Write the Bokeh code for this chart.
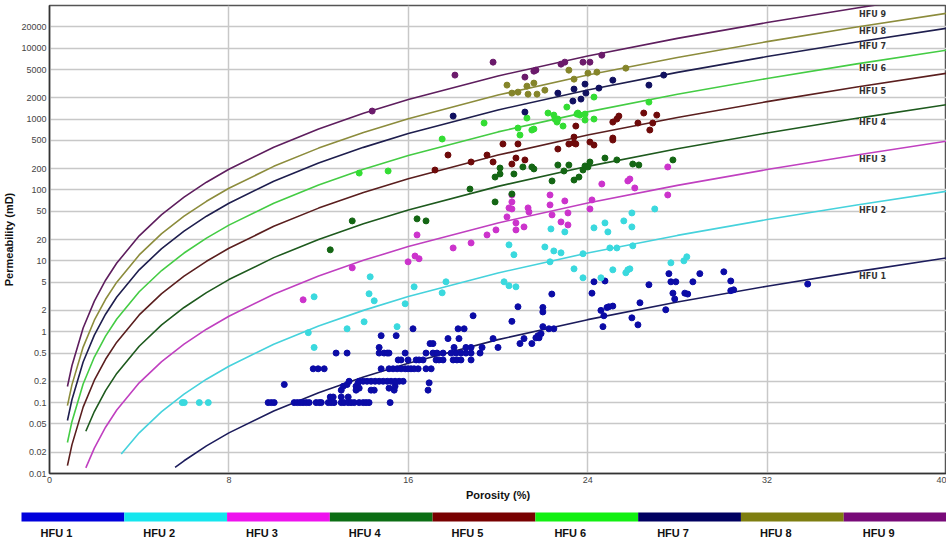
from bokeh.plotting import figure
from bokeh.models import FixedTicker, CustomJSTickFormatter, Label, Range1d, ColumnDataSource
from bokeh.layouts import column
from bokeh.embed import file_html
from bokeh.resources import INLINE
from bokeh.core.properties import value

# ---------------- data ----------------
units = ["HFU 1", "HFU 2", "HFU 3", "HFU 4", "HFU 5", "HFU 6", "HFU 7", "HFU 8", "HFU 9"]

x_ticks = [0, 8, 16, 24, 32, 40]
y_ticks = [0.01, 0.02, 0.05, 0.1, 0.2, 0.5, 1, 2, 5, 10, 20, 50, 100, 200, 500,
           1000, 2000, 5000, 10000, 20000]

# HFU reference curves (porosity %, permeability mD)
phi_a = [0.8, 1.0, 1.5, 2.0, 2.5, 3.0, 4.0, 5.0, 6.0, 7.0, 8.0, 10, 12, 14, 16, 20, 24, 28, 32, 36, 40]
phi_b = [1.62, 2.0, 2.5, 3.0, 4.0, 5.0, 6.0, 7.0, 8.0, 10, 12, 14, 16, 20, 24, 28, 32, 36, 40]
phi_c = [3.2, 4.0, 5.0, 6.0, 7.0, 8.0, 10, 12, 14, 16, 20, 24, 28, 32, 36, 40]
phi_d = [5.6, 6.0, 7.0, 8.0, 10, 12, 14, 16, 20, 24, 28, 32, 36, 40]

k_hfu9 = [0.169, 0.331, 1.129, 2.703, 5.333, 9.311, 22.53, 44.94, 79.32, 128.7, 196.3, 400.6, 724.0, 1204, 1884, 4056, 7766, 13740, 22994, 36960, 57686]
k_hfu8 = [0.0907, 0.178, 0.607, 1.453, 2.867, 5.005, 12.11, 24.16, 42.64, 69.17, 105.5, 215.3, 389.2, 647.1, 1012, 2180, 4174, 7386, 12359, 19866, 31006]
k_hfu7 = [0.0559, 0.1097, 0.374, 0.895, 1.767, 3.084, 7.464, 14.89, 26.28, 42.63, 65.02, 132.7, 239.8, 398.8, 623.9, 1344, 2573, 4552, 7617, 12243, 19109]
k_hfu6 = [0.0274, 0.0538, 0.1834, 0.4392, 0.8667, 1.513, 3.662, 7.303, 12.89, 20.91, 31.90, 65.10, 117.7, 195.6, 306.1, 659.1, 1262, 2233, 3737, 6006, 9374]
k_hfu5 = [0.01293, 0.02535, 0.0864, 0.2069, 0.4083, 0.7129, 1.725, 3.441, 6.073, 9.852, 15.03, 30.67, 55.43, 92.17, 144.2, 310.5, 594.6, 1052, 1760, 2830, 4417]
k_hfu4 = [0.0395, 0.0749, 0.1478, 0.2581, 0.6246, 1.246, 2.199, 3.567, 5.441, 11.10, 20.07, 33.37, 52.21, 112.4, 215.3, 380.9, 637.4, 1024, 1599]
k_hfu3 = [0.01203, 0.02281, 0.0450, 0.0786, 0.1901, 0.3792, 0.6693, 1.086, 1.656, 3.380, 6.109, 10.16, 15.89, 34.22, 65.53, 115.9, 194.0, 311.9, 486.7]
k_hfu2 = [0.01886, 0.03746, 0.0747, 0.1319, 0.2139, 0.3263, 0.666, 1.204, 2.001, 3.131, 6.743, 12.91, 22.84, 38.23, 61.45, 95.90]
k_hfu1 = [0.01219, 0.01512, 0.02453, 0.03742, 0.07637, 0.1380, 0.2295, 0.3591, 0.7732, 1.480, 2.619, 4.383, 7.046, 11.00]

# curve labels (porosity %, permeability mD)
label_x = [36.1] * 9
label_y = [6.05, 51.4, 269, 893, 2440, 5140, 10500, 17000, 29700]

# core samples by unit (porosity %, permeability mD)
hfu1_points = [
    (9.75, 0.1), (9.89, 0.1), (10.02, 0.1), (10.91, 0.1), (11.05, 0.1), (11.18, 0.1), (11.31, 0.1),
    (11.45, 0.1), (11.58, 0.1), (11.89, 0.1), (12.03, 0.1), (12.12, 0.1), (12.43, 0.1), (12.56, 0.1),
    (12.69, 0.1), (13.01, 0.1), (13.14, 0.1), (13.32, 0.1), (13.45, 0.1), (13.59, 0.1), (13.81, 0.1),
    (13.99, 0.1), (14.12, 0.1), (14.25, 0.1), (15.19, 0.1),
    (12.52, 0.12), (12.65, 0.12), (13.01, 0.12), (13.32, 0.12),
    (13.01, 0.15), (13.10, 0.17), (13.27, 0.18), (13.36, 0.2), (13.67, 0.17), (13.76, 0.19),
    (13.81, 0.16), (13.67, 0.15), (14.34, 0.15), (14.48, 0.15), (15.14, 0.16), (15.37, 0.15),
    (15.41, 0.17), (16.88, 0.15), (16.93, 0.19), (10.47, 0.18),
    (13.81, 0.2), (13.99, 0.2), (14.16, 0.2), (14.34, 0.2), (14.52, 0.2), (14.70, 0.2), (14.88, 0.2),
    (15.06, 0.2), (15.23, 0.2), (15.41, 0.2), (15.59, 0.2), (15.77, 0.2),
    (11.76, 0.3), (11.98, 0.3), (12.25, 0.3), (14.79, 0.3), (15.14, 0.3), (15.32, 0.3), (15.50, 0.3),
    (15.68, 0.3), (15.86, 0.3), (15.99, 0.3), (16.12, 0.3), (16.26, 0.3), (16.44, 0.3), (16.79, 0.3),
    (17.02, 0.3),
    (15.55, 0.4), (15.68, 0.4), (15.99, 0.4), (16.35, 0.4), (16.48, 0.4), (16.66, 0.4), (17.24, 0.4),
    (17.37, 0.4), (17.55, 0.4), (18.0, 0.4), (18.17, 0.4), (18.35, 0.4), (18.8, 0.4),
    (12.78, 0.5), (13.27, 0.5), (14.70, 0.5), (14.92, 0.5), (15.06, 0.5), (15.14, 0.5), (15.86, 0.5),
    (16.79, 0.5), (17.1, 0.5), (17.28, 0.5), (17.55, 0.5), (17.91, 0.5), (18.13, 0.5), (18.35, 0.5),
    (18.57, 0.5), (18.8, 0.5), (19.2, 0.5),
    (16.97, 0.68), (17.1, 0.68), (14.7, 0.6), (17.77, 0.8), (18.26, 0.8), (14.79, 0.88), (15.46, 0.88),
    (18.22, 1.1), (18.49, 1.1), (16.21, 1.1), (18.89, 1.68), (18.04, 0.6), (18.57, 0.6), (18.8, 0.6),
    (19.29, 0.6), (19.78, 0.8), (20.0, 0.6), (20.62, 1.4), (20.89, 2.25), (22.0, 2.2), (22.0, 1.9),
    (22.4, 3.4), (22.0, 1.18), (22.27, 1.1), (22.49, 1.1), (20.98, 0.68), (21.16, 0.8), (21.51, 0.68),
    (21.69, 0.82), (21.78, 0.88), (21.83, 0.82), (21.92, 0.94), (24.19, 3.5), (24.28, 5.06),
    (24.77, 5.2), (24.59, 2.0), (24.86, 2.2), (24.94, 2.25), (25.12, 2.3), (24.72, 1.68), (24.68, 1.18),
    (25.97, 1.57), (26.24, 1.25), (26.33, 2.56), (26.73, 4.6), (27.48, 2.04), (27.62, 6.6),
    (27.71, 5.06), (27.93, 5.06), (27.8, 3.5), (27.88, 2.9), (28.33, 3.5), (28.46, 3.4), (28.69, 5.06),
    (29.0, 6.6), (30.07, 7.0), (30.38, 5.2), (30.38, 3.8), (30.51, 3.9), (33.81, 4.7),
]
hfu2_points = [
    (5.92, 0.1), (6.01, 0.1), (6.68, 0.1), (7.08, 0.1),
    (11.54, 0.97), (11.8, 3.11), (11.8, 0.6), (13.27, 1.1), (14.03, 1.38), (14.25, 3.43), (14.48, 2.73),
    (14.3, 5.95), (15.5, 1.18), (15.86, 2.48), (16.26, 4.3), (17.51, 3.54), (17.68, 5.06),
    (20.27, 5.06), (20.49, 4.45), (20.8, 4.3), (20.49, 16.8), (20.71, 12.2), (22.09, 15.7), (22.49, 13.8),
    (22.81, 12.97), (22.32, 9.68), (23.39, 7.71), (23.79, 5.76), (23.79, 12.6), (24.28, 29.2),
    (24.77, 34.3), (24.9, 25.6), (25.61, 36.6), (25.97, 47.4), (25.97, 30.1), (26.99, 54.0),
    (22.36, 28.2), (22.98, 25.6), (24.59, 5.76), (24.99, 15.2), (25.3, 15.2), (26.01, 16.3),
    (25.12, 7.47), (25.7, 6.78), (25.79, 7.47), (25.88, 7.71), (27.71, 9.37), (28.29, 10.0), (28.42, 11.4),
]
hfu3_points = [
    (11.31, 2.82), (13.5, 7.97), (15.99, 9.68), (16.3, 11.7), (16.48, 10.7), (16.39, 23.2), (18.0, 15.2),
    (18.8, 17.9), (19.51, 23.2), (19.91, 27.3), (20.4, 41.7), (20.49, 55.8), (20.62, 85.0), (20.62, 67.8),
    (20.62, 54.0), (20.8, 34.3), (20.8, 27.3), (21.16, 30.1), (21.34, 55.8), (21.38, 49.0), (22.32, 85.0),
    (22.32, 61.5), (22.41, 44.5), (22.81, 35.4), (23.12, 47.4), (23.12, 32.1), (22.98, 70.0),
    (24.1, 54.0), (24.19, 72.3), (24.63, 121.5), (25.79, 134), (25.88, 142.8), (26.1, 106.7),
    (27.57, 211), (27.57, 85.0),
]
hfu4_points = [
    (12.52, 14.3), (13.5, 36.6), (16.39, 39.1), (16.79, 36.6), (18.75, 103), (19.87, 67.8), (19.87, 152),
    (20.09, 168), (20.09, 204), (20.71, 168), (20.62, 87.8), (21.11, 211), (21.51, 211), (21.6, 198),
    (22.41, 134), (22.67, 225), (22.94, 185), (23.16, 225), (23.39, 138), (23.61, 152), (23.79, 191),
    (23.88, 218), (24.01, 211), (24.1, 248), (24.77, 282), (25.3, 265), (26.01, 232), (26.28, 225),
    (27.8, 265),
]
hfu5_points = [
    (17.19, 191), (17.77, 311), (18.8, 248), (19.51, 311), (19.78, 248), (20.22, 445), (20.89, 445),
    (20.8, 282), (20.62, 232), (21.2, 265), (22.67, 378), (23.16, 445), (23.39, 459), (23.47, 445),
    (23.39, 557), (23.47, 797), (24.1, 474), (24.28, 430), (25.12, 540), (25.12, 506), (25.12, 907),
    (25.3, 1000), (25.39, 1102), (26.24, 879), (26.5, 1216), (26.77, 700), (26.9, 879), (27.08, 1138),
]
hfu6_points = [
    (13.81, 173), (15.1, 185), (17.51, 523), (19.38, 879), (20.89, 747), (20.98, 595), (21.51, 700),
    (21.6, 723), (21.29, 1033), (22.23, 1216), (22.49, 1138), (22.54, 1000), (22.63, 907), (22.67, 1000),
    (22.9, 797), (23.07, 1476), (23.52, 1175), (23.56, 1216), (23.65, 1138), (23.88, 968), (23.88, 1175),
    (24.28, 2042), (24.28, 1000), (26.73, 1734),
]
hfu7_points = [
    (18.0, 1102), (21.2, 1256), (22.67, 2323), (23.39, 2648), (23.88, 3112), (23.92, 2323), (23.34, 1794),
    (23.7, 1914), (24.5, 2734), (25.12, 3540), (26.73, 3013), (27.39, 4168),
]
hfu8_points = [
    (20.4, 3013), (20.62, 2323), (20.89, 2399), (21.29, 2915), (21.34, 2248), (21.6, 3215), (21.74, 2248),
    (22.09, 2560), (23.16, 4898), (23.39, 3656), (24.01, 4446), (24.41, 4592), (25.7, 5228),
]
hfu9_points = [
    (14.39, 1297), (18.08, 4168), (19.78, 6353), (21.2, 3906), (21.6, 4740), (21.69, 4898), (22.81, 5957),
    (22.98, 6353), (23.79, 6353), (24.1, 6353), (24.63, 7963),
]

curve_colors = ["#1C1C5C", "#46D2DC", "#C040C0", "#1E5A1E", "#5A1E1E", "#44CC44", "#1E1E4E", "#8C8C3C", "#5E1E5E"]
point_colors = ["#0B0BA6", "#3AD9DE", "#CC33CC", "#146614", "#6E0A0A", "#33DD33", "#101060", "#85852A", "#6B1A6B"]
legend_colors = ["#0000DC", "#14E6EE", "#EE12EE", "#0C6E14", "#780000", "#12F012", "#000060", "#7E7E10", "#780A78"]

# ---------------- main plot ----------------
p = figure(width=946, height=503, y_axis_type="log",
           x_range=Range1d(0, 40), y_range=Range1d(0.01, 40000),
           output_backend="svg", toolbar_location=None,
           min_border_left=48, min_border_right=0, min_border_top=5, min_border_bottom=30)
p.background_fill_color = "white"
p.border_fill_color = "white"
p.outline_line_color = "#555555"
p.outline_line_width = 1.5

curves = [(phi_d, k_hfu1), (phi_c, k_hfu2), (phi_b, k_hfu3), (phi_b, k_hfu4), (phi_a, k_hfu5),
          (phi_a, k_hfu6), (phi_a, k_hfu7), (phi_a, k_hfu8), (phi_a, k_hfu9)]
for (cx, cy), col in zip(curves, curve_colors):
    p.line(cx, cy, line_color=col, line_width=1.6)

all_points = [hfu1_points, hfu2_points, hfu3_points, hfu4_points, hfu5_points,
              hfu6_points, hfu7_points, hfu8_points, hfu9_points]
for pts, col in zip(all_points, point_colors):
    xs = [a for a, b in pts]
    ys = [b for a, b in pts]
    p.scatter(xs, ys, size=6, fill_color=col, line_color=col)

for name, lx, ly in zip(units, label_x, label_y):
    p.add_layout(Label(x=lx, y=ly, text=name, text_font="DejaVu Sans", text_font_size="8px",
                       text_font_style="bold", text_color="#333333", text_baseline="middle",
                       background_fill_color="white"))

p.xaxis.ticker = FixedTicker(ticks=x_ticks)
p.yaxis.ticker = FixedTicker(ticks=y_ticks)
p.yaxis.formatter = CustomJSTickFormatter(code="return tick.toString();")
p.xgrid.ticker = FixedTicker(ticks=[8, 16, 24, 32])
for g in (p.xgrid, p.ygrid):
    g.grid_line_color = "#C8C8C8"
    g.grid_line_width = 1.5
for ax in (p.xaxis, p.yaxis):
    ax.major_tick_line_color = None
    ax.minor_tick_line_color = None
    ax.major_tick_out = 0
    ax.major_tick_in = 0
    ax.minor_tick_out = 0
    ax.minor_tick_in = 0
    ax.axis_line_color = "#333333"
    ax.axis_line_width = 1.5
    ax.major_label_text_font = "Liberation Sans"
    ax.major_label_text_font_size = "9px"
    ax.major_label_text_color = "#444444"
    ax.major_label_standoff = 3
    ax.axis_label_text_font = "Liberation Sans"
    ax.axis_label_text_font_size = "11px"
    ax.axis_label_text_font_style = "bold"
    ax.axis_label_text_color = "#111111"
    ax.axis_label_standoff = 3
p.xaxis.axis_label = "Porosity (%)"
p.yaxis.axis_label = "Permeability (mD)"

# ---------------- legend strip (own figure, page-pixel coordinates) ----------------
lf = figure(width=946, height=40, x_range=Range1d(0, 946), y_range=Range1d(40, 0),
            output_backend="svg", toolbar_location=None,
            min_border=0, min_border_left=0, min_border_right=0, min_border_top=0, min_border_bottom=0)
frame_left_of_lf = 0
for fig in (p, lf):
    if "frame_align" in fig.properties():
        fig.frame_align = False
if "frame_align" not in lf.properties():
    frame_left_of_lf = 48
    lf.x_range = Range1d(48, 946)
lf.axis.visible = False
lf.grid.visible = False
lf.outline_line_color = None
seg_w = (946 - 21) / len(units)
lefts = [21 + i * seg_w for i in range(len(units))]
rights = [l + seg_w for l in lefts]
lsrc = ColumnDataSource(dict(left=lefts, right=rights, color=legend_colors,
                             tx=[l + 19 for l in lefts], name=units))
lf.quad(left="left", right="right", top=9, bottom=18, fill_color="color", line_color=None, source=lsrc)
lf.text(x="tx", y=29, text="name", source=lsrc, text_font=value("Liberation Sans"),
        text_font_size="11px", text_font_style="bold", text_color="#111111",
        text_baseline="middle", text_align="left")

layout = column(p, lf, spacing=0)
open("out.html", "w").write(file_html(layout, INLINE))
